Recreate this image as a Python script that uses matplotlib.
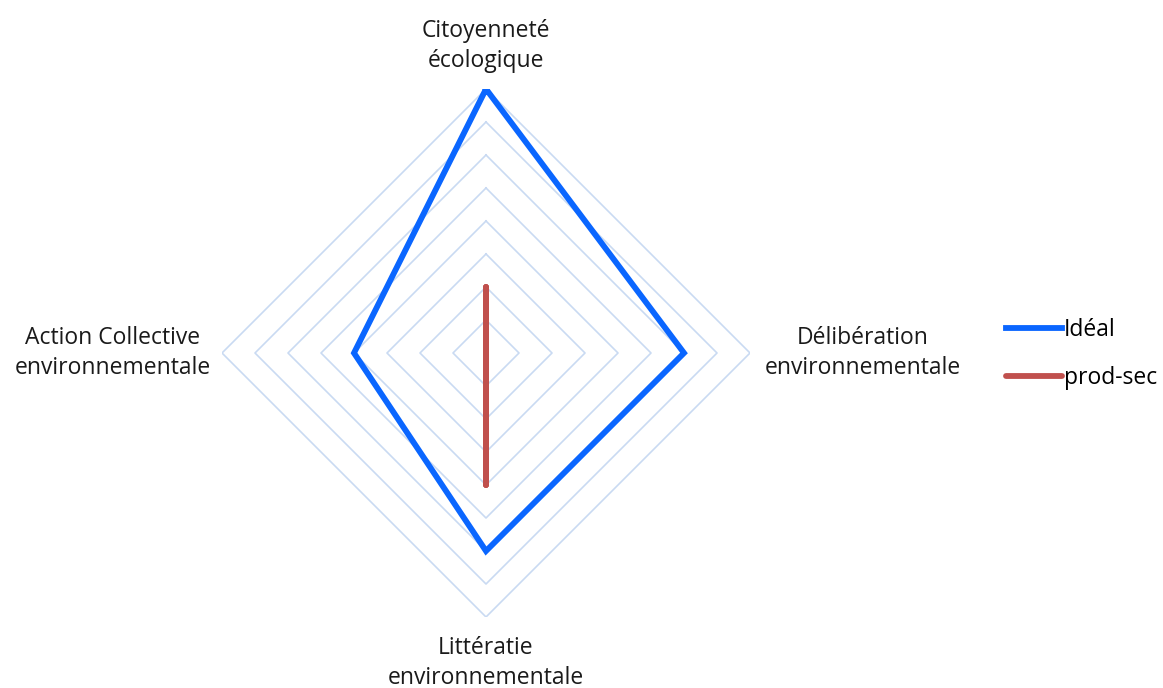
import numpy as np
import matplotlib
matplotlib.use("Agg")
import matplotlib.pyplot as plt

axes_labels = ["Citoyenneté\nécologique", "Délibération\nenvironnementale",
               "Littératie\nenvironnementale", "Action Collective\nenvironnementale"]
series_names = ["Idéal", "prod-sec"]
ideal = [4, 3, 3, 2]
prod_sec = [1, 0, 2, 0]
ring_levels = [0.5, 1, 1.5, 2, 2.5, 3, 3.5, 4]

W, H = 1163, 688
fig = plt.figure(figsize=(W / 100, H / 100), dpi=100)
cx, cy, R = 486, 353, 264
ax = fig.add_axes([(cx - R) / W, (H - cy - R) / H, 2 * R / W, 2 * R / H], projection="polar")
ax.set_theta_offset(np.pi / 2)
ax.set_theta_direction(-1)
ax.set_ylim(0, 4)
ax.grid(False)
ax.set_xticks([]); ax.set_yticks([])
ax.spines["polar"].set_visible(False)
ax.patch.set_alpha(0)

theta = np.linspace(0, 2 * np.pi, len(axes_labels), endpoint=False)
closed = np.append(theta, theta[0])
for lv in ring_levels:
    ax.plot(closed, [lv] * len(closed), color="#c9daf2", lw=1.2, zorder=1)

ax.plot(closed, ideal + ideal[:1], color="#0a66ff", lw=4.2, solid_joinstyle="miter",
        label=series_names[0], zorder=3)
ax.plot(closed, prod_sec + prod_sec[:1], color="#c0504d", lw=4.2, solid_capstyle="round",
        label=series_names[1], zorder=4)

font = dict(fontsize=16.5, family=["Open Sans", "DejaVu Sans"], color="#1a1a1a",
            linespacing=1.3)
fig.text(486 / W, 1 - 46 / H, axes_labels[0], ha="center", va="center", **font)
fig.text(863 / W, 1 - 353 / H, axes_labels[1], ha="center", va="center", **font)
fig.text(486 / W, 1 - 663 / H, axes_labels[2], ha="center", va="center", **font)
fig.text(113 / W, 1 - 353 / H, axes_labels[3], ha="center", va="center", **font)

leg = fig.legend(loc="center left", bbox_to_anchor=(985 / W, 1 - 354 / H), frameon=False,
                 handlelength=2.45, handletextpad=0.1, labelspacing=1.07,
                 prop=dict(size=16.5, family=["Open Sans", "DejaVu Sans"]))

fig.savefig("out.png", dpi=100)
